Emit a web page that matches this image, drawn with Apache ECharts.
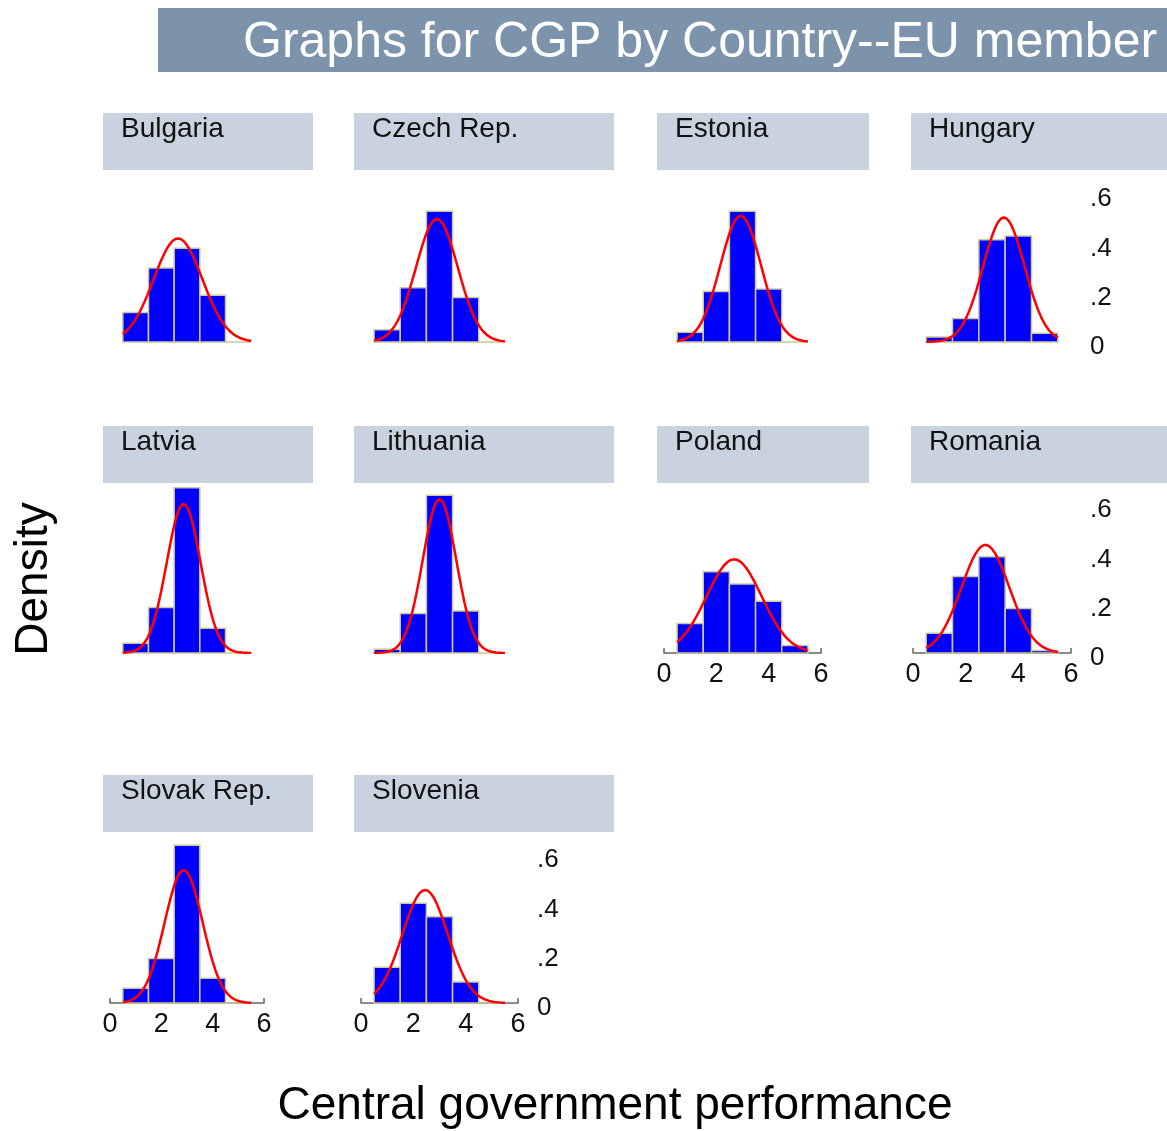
<!DOCTYPE html>
<html lang="en">
<head>
<meta charset="UTF-8" />
<title>Graphs for CGP by Country--EU member</title>
<script src="https://cdn.jsdelivr.net/npm/echarts@6/dist/echarts.min.js"></script>
</head>
<body style="margin:0;background:#fff;">
<div id="main" style="width:1167px;height:1131px;"></div>
<script type="text/javascript">
    // histogram bins (centres, width 1) and densities
    var countries = ['Bulgaria', 'Czech Rep.', 'Estonia', 'Hungary', 'Latvia',
        'Lithuania', 'Poland', 'Romania', 'Slovak Rep.', 'Slovenia'];
    var bins = [1, 2, 3, 4, 5];
    var bulgaria = [0.12, 0.30, 0.38, 0.19, 0];
    var czech = [0.05, 0.22, 0.53, 0.18, 0];
    var estonia = [0.04, 0.205, 0.53, 0.215, 0];
    var hungary = [0.02, 0.095, 0.415, 0.43, 0.035];
    var latvia = [0.04, 0.185, 0.67, 0.10, 0];
    var lithuania = [0.015, 0.16, 0.64, 0.17, 0];
    var poland = [0.12, 0.33, 0.28, 0.21, 0.03];
    var romania = [0.08, 0.31, 0.39, 0.18, 0.01];
    var slovak = [0.06, 0.18, 0.64, 0.10, 0];
    var slovenia = [0.145, 0.405, 0.35, 0.085, 0];
    var densities = [bulgaria, czech, estonia, hungary, latvia, lithuania, poland, romania, slovak, slovenia];

    // fitted normal curve (mean, sd) per country
    var normMean = [2.65, 2.9, 2.93, 3.45, 2.87, 3.0, 2.68, 2.75, 2.87, 2.45];
    var normSd = [0.95, 0.80, 0.78, 0.79, 0.66, 0.64, 1.05, 0.91, 0.74, 0.87];
    var curveFrom = 0.5, curveTo = 5.5;

    var xTicks = [0, 2, 4, 6];
    var yTicks = [0, 0.2, 0.4, 0.6];
    var yTickLabels = ['0', '.2', '.4', '.6'];

    // layout of the panel grid
    var panelCol = [0, 1, 2, 3, 0, 1, 2, 3, 0, 1];
    var panelRow = [0, 0, 0, 0, 1, 1, 1, 1, 2, 2];
    var showX = [false, false, false, false, false, false, true, true, true, true];
    var showY = [false, false, false, true, false, false, false, true, false, true];
    var colLeft = [110, 361, 664, 913];
    var colWidth = [154, 157, 157, 158];
    var rowBase = [342, 653, 1003];
    var yMax = 0.7;
    var gridH = 172.6;
    var boxLeft = [103, 354, 657, 911];
    var boxWidth = [210, 260, 212, 260];
    var boxTop = [113, 426, 775];
    var boxH = 57;

    var font = 'Liberation Sans, Arial, Helvetica, sans-serif';
    var chart = echarts.init(document.getElementById('main'));

    function normalPdf(x, m, s) {
        return Math.exp(-0.5 * Math.pow((x - m) / s, 2)) / (s * Math.sqrt(2 * Math.PI));
    }

    var grids = [], xAxes = [], yAxes = [], series = [];
    var graphics = [
        { type: 'rect', shape: { x: 158, y: 8, width: 1009, height: 64 }, style: { fill: '#7d92ab' } },
        { type: 'text', x: 243, y: 43, style: { text: 'Graphs for CGP by Country--EU member', fill: '#fff',
            font: '50px ' + font, verticalAlign: 'middle' } },
        { type: 'text', x: 34, y: 579, rotation: Math.PI / 2, style: { text: 'Density', fill: '#000',
            font: '46px ' + font, align: 'center', verticalAlign: 'middle' } },
        { type: 'text', x: 615, y: 1106, style: { text: 'Central government performance', fill: '#000',
            font: '46px ' + font, align: 'center', verticalAlign: 'middle' } }
    ];

    for (var i = 0; i < countries.length; i++) {
        var c = panelCol[i], r = panelRow[i];
        grids.push({ left: colLeft[c], width: colWidth[c], top: rowBase[r] - gridH, height: gridH });
        graphics.push({ type: 'rect', shape: { x: boxLeft[c], y: boxTop[r], width: boxWidth[c], height: boxH },
            style: { fill: '#c8d3df' } });
        graphics.push({ type: 'text', x: boxLeft[c] + 18, y: boxTop[r] + 16, style: { text: countries[i],
            fill: '#111', font: '28px ' + font, verticalAlign: 'middle' } });

        xAxes.push({
            gridIndex: i, type: 'value', min: 0, max: 6, interval: 2, show: showX[i],
            axisLine: { show: true, lineStyle: { color: '#666', width: 1.5 } },
            axisTick: { show: true, inside: true, length: 5, lineStyle: { color: '#666', width: 1.5 } },
            splitLine: { show: false },
            axisLabel: { fontSize: 27, color: '#111', fontFamily: font, margin: 8 }
        });
        yAxes.push({
            gridIndex: i, type: 'value', min: 0, max: yMax, interval: 0.2, show: showY[i], position: 'right',
            axisLine: { show: false }, axisTick: { show: false }, splitLine: { show: false },
            axisLabel: {
                fontSize: 26, color: '#111', fontFamily: font, margin: 19, align: 'left',
                verticalAlign: 'top', lineHeight: 10,
                formatter: function (v) {
                    for (var k = 0; k < yTicks.length; k++) {
                        if (Math.abs(v - yTicks[k]) < 1e-6) return yTickLabels[k];
                    }
                    return '';
                }
            }
        });

        var barData = [];
        for (var b = 0; b < bins.length; b++) barData.push([bins[b], densities[i][b]]);
        series.push({
            type: 'custom', xAxisIndex: i, yAxisIndex: i, data: barData, clip: false,
            renderItem: function (params, api) {
                var p0 = api.coord([api.value(0) - 0.5, 0]);
                var p1 = api.coord([api.value(0) + 0.5, api.value(1)]);
                return {
                    type: 'rect',
                    shape: { x: p0[0], y: p1[1], width: p1[0] - p0[0], height: p0[1] - p1[1] },
                    style: { fill: '#0000ff', stroke: '#cdc79b', lineWidth: 1.5 }
                };
            }
        });

        var curve = [];
        for (var x = curveFrom; x <= curveTo + 1e-9; x += 0.05) {
            curve.push([x, normalPdf(x, normMean[i], normSd[i])]);
        }
        series.push({
            type: 'line', xAxisIndex: i, yAxisIndex: i, data: curve, showSymbol: false,
            lineStyle: { color: '#ff0000', width: 2.5 }, z: 5, silent: true
        });
    }

    chart.setOption({
        animation: false,
        grid: grids,
        xAxis: xAxes,
        yAxis: yAxes,
        series: series,
        graphic: graphics
    });
</script>
</body>
</html>
